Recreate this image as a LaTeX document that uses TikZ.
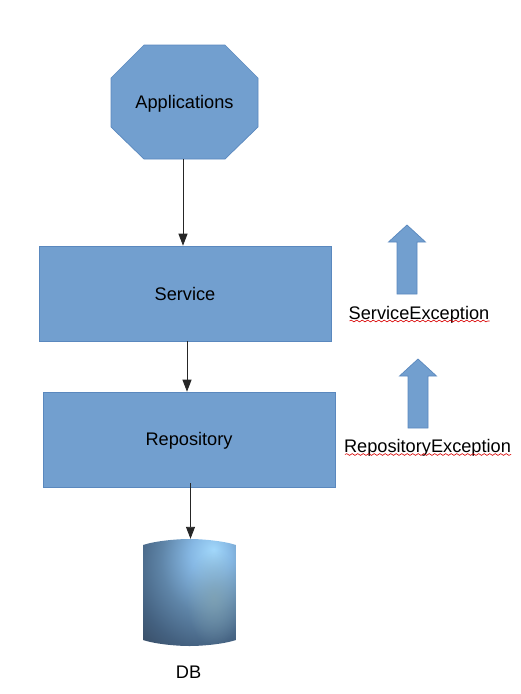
\documentclass[tikz,border=0pt]{standalone}
\usepackage{fontspec}
\setmainfont{Liberation Sans}
\usetikzlibrary{arrows.meta,decorations.pathmorphing,fadings}
\definecolor{boxfill}{HTML}{729FCF}
\definecolor{boxline}{HTML}{5A88BE}
\definecolor{dbA}{HTML}{A2D8FB}
\definecolor{dbB}{HTML}{86B8E4}
\definecolor{dbC}{HTML}{5F85A8}
\definecolor{dbD}{HTML}{446180}
\definecolor{dbE}{HTML}{33445A}
\definecolor{dbLobe}{HTML}{84A4AE}
\pgfdeclareradialshading{dbshade}{\pgfpoint{13bp}{20bp}}{
  color(0bp)=(dbA);
  color(11bp)=(dbB);
  color(25bp)=(dbC);
  color(38bp)=(dbD);
  color(52bp)=(dbE);
  color(100bp)=(dbE)}
\tikzfading[name=lobefade, inner color=transparent!35, outer color=transparent!100]
\tikzset{
  x=1pt,y=-1pt,
  lbl/.style={font=\fontsize{18.2pt}{21pt}\selectfont,text=black,inner sep=0pt},
  blockbox/.style={rectangle,draw=boxline,line width=0.6pt,fill=boxfill,minimum width=292pt,minimum height=95pt,inner sep=0pt,lbl},
  octashape/.style={draw=boxline,line width=0.7pt,fill=boxfill,line join=miter},
  conn/.style={draw=black!85,line width=0.9pt,-{Stealth[length=12pt,width=9pt,inset=0pt]}},
  uparrow/.style={fill=boxfill,draw=boxline,line width=0.7pt,line join=miter},
  squiggle/.style={draw=red!85!black,line width=0.6pt,decorate,decoration={snake,amplitude=0.9pt,segment length=5.5pt}}
}
\newcommand{\basetext}[2]{\raisebox{-#1}[0pt][0pt]{#2}}
\begin{document}
\begin{tikzpicture}
\path[use as bounding box] (0,0) rectangle (520,694);
\path[octashape] (144,45) -- (225,45) -- (258,78) -- (258,127) -- (225,159) -- (144,159) -- (111,127) -- (111,78) -- cycle;
\node[lbl,minimum width=147pt,minimum height=114pt] (app) at (184.5,102) {\basetext{6pt}{Applications}};
\node[blockbox] (svc) at (185,293.5) {\basetext{6.5pt}{Service}};
\node[blockbox] (repo) at (189,439.5) {\basetext{5.5pt}{Repository}};
\node[inner sep=0pt,minimum width=93pt,minimum height=107pt] (db) at (189.5,592.5) {};
\begin{scope}
\path[clip] (143,545) .. controls (155,541) and (176,539) .. (189.5,539) .. controls (203,539) and (224,541) .. (236,545)
  -- (236,640) .. controls (224,644) and (203,646) .. (189.5,646) .. controls (176,646) and (155,644) .. (143,640) -- cycle;
\path[shading=dbshade] (143,539) rectangle (236,646);
\fill[dbLobe,path fading=lobefade] (214,598) ellipse [x radius=28,y radius=48];
\end{scope}
\node[lbl] (dblabel) at (188.5,672) {DB};
\draw[conn] ([xshift=-1.5pt]app.south) -- ([xshift=-1.5pt]app.south |- svc.north);
\draw[conn] ([xshift=2pt]svc.south) -- ([xshift=2pt]svc.south |- repo.north);
\draw[conn] ([xshift=1.5pt,yshift=4pt]repo.south) -- ([xshift=1.5pt]repo.south |- db.north);
\path[uparrow] (407,225) -- (425.5,242) -- (417,242) -- (417,294) -- (397,294) -- (397,242) -- (388.5,242) -- cycle;
\path[uparrow] (418,359) -- (436.5,376) -- (428,376) -- (428,428) -- (408,428) -- (408,376) -- (399.5,376) -- cycle;
\node[lbl] (svcex) at (419,315) {ServiceException};
\node[lbl] (repoex) at (427.5,448) {RepositoryException};
\draw[squiggle] (349.5,321) -- (489.5,321);
\draw[squiggle] (345,454.5) -- (511,454.5);
\end{tikzpicture}
\end{document}
